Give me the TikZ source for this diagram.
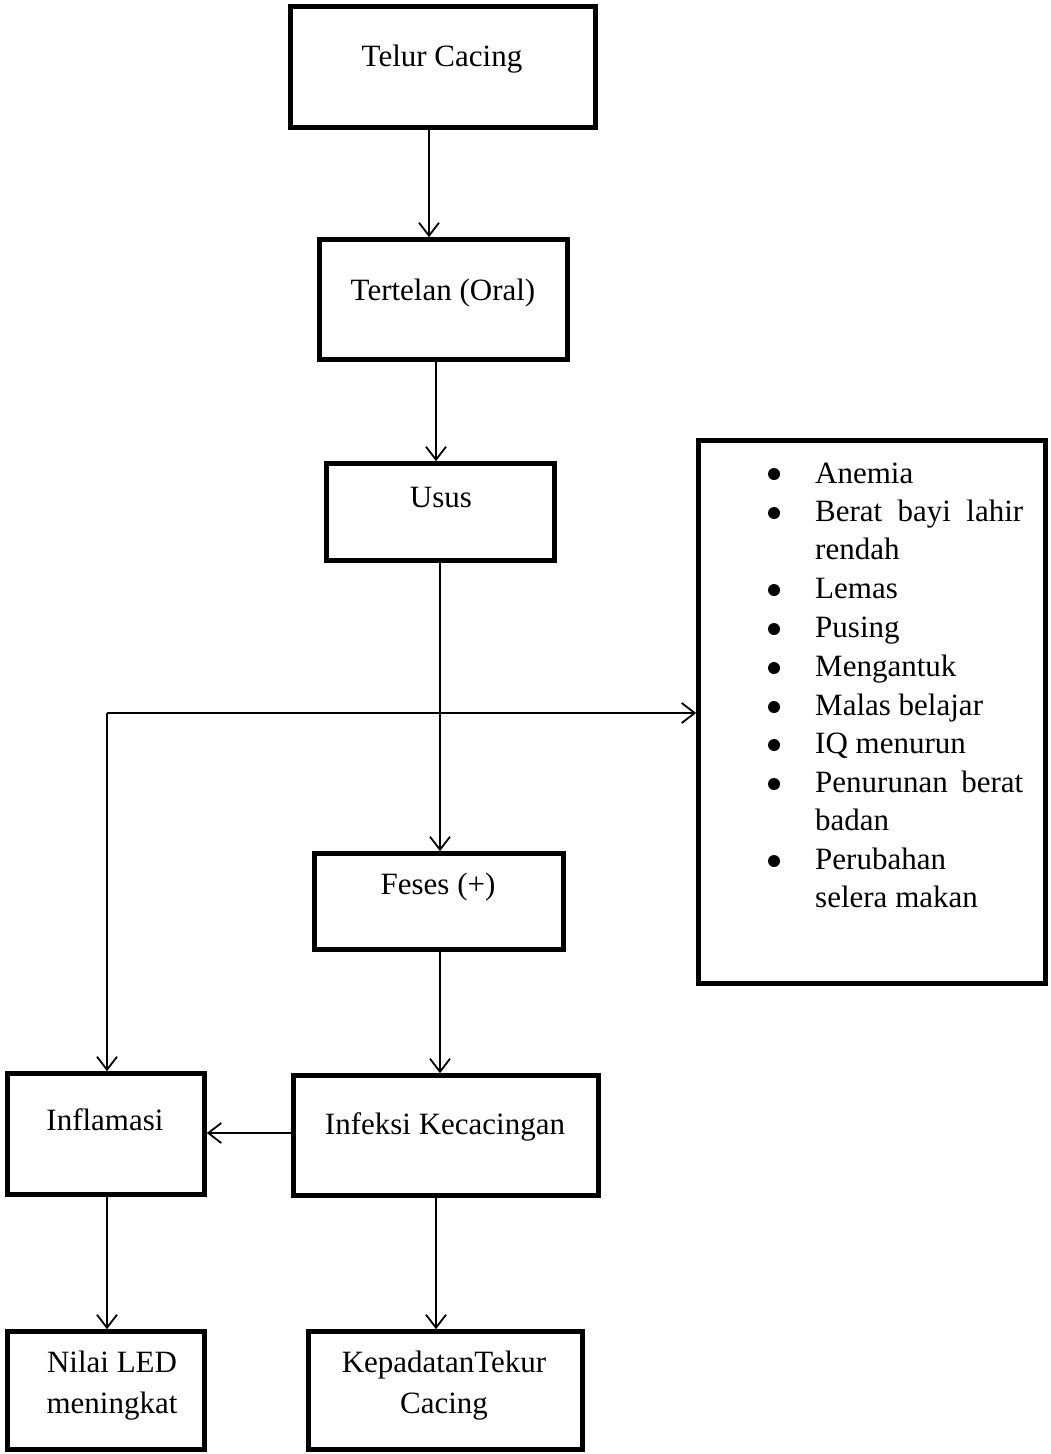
\documentclass[tikz,border=0pt]{standalone}
\usepackage{fontspec}
\setmainfont{Liberation Serif}
\usetikzlibrary{arrows.meta}
\begin{document}
\begin{tikzpicture}[x=1pt,y=-1pt,
  box/.style={draw, line width=4.6pt, inner sep=0pt},
  lbl/.style={anchor=base, inner sep=0pt, font=\fontsize{31}{38}\selectfont},
  arr/.style={line width=1.8pt, -{Straight Barb[length=13pt,width=20pt,line width=1.8pt]}},
  bul/.style={circle, fill, inner sep=0pt, minimum size=12pt},
  itm/.style={anchor=base west, inner sep=0pt, font=\fontsize{31}{38}\selectfont}]
\useasboundingbox (0,0) rectangle (1050,1454);
% boxes
\node[box, minimum width=305pt, minimum height=121pt] (telur) at (443,67) {};
\node[box, minimum width=248pt, minimum height=120pt] (oral) at (443.5,299.5) {};
\node[box, minimum width=228pt, minimum height=97pt] (usus) at (440.5,512) {};
\node[box, minimum width=347pt, minimum height=543pt] (list) at (872,712) {};
\node[box, minimum width=249pt, minimum height=96pt] (feses) at (439,901.5) {};
\node[box, minimum width=197pt, minimum height=121pt] (infl) at (106,1134) {};
\node[box, minimum width=305pt, minimum height=120pt] (infeksi) at (446,1135.5) {};
\node[box, minimum width=197pt, minimum height=118pt] (nilai) at (106,1390.5) {};
\node[box, minimum width=274pt, minimum height=118pt] (kepadatan) at (445.5,1390.5) {};
% texts
\node[lbl] (t1) at (442,66) {Telur Cacing};
\node[lbl] (t2) at (443,300) {Tertelan (Oral)};
\node[lbl] (t3) at (441,507) {Usus};
\node[lbl] (t4) at (438,894) {Feses (+)};
\node[lbl] (t5) at (105,1130) {Inflamasi};
\node[lbl] (t6) at (445,1134) {Infeksi Kecacingan};
\node[lbl] (t7) at (112,1372) {Nilai LED};
\node[lbl] (t8) at (112,1413) {meningkat};
\node[lbl] (t9) at (444,1372) {KepadatanTekur};
\node[lbl] (t10) at (444,1413) {Cacing};
% list
\node[bul] (b1) at (774,474) {};
\node[itm] (i1) at (815,483) {Anemia};
\node[bul] (b2) at (774,513) {};
\node[itm] (i2) at (815,521) {\makebox[208pt][s]{Berat bayi lahir}};
\node[itm] (i2b) at (815,559) {rendah};
\node[bul] (b3) at (774,590) {};
\node[itm] (i3) at (815,598) {Lemas};
\node[bul] (b4) at (774,629) {};
\node[itm] (i4) at (815,637) {Pusing};
\node[bul] (b5) at (774,668) {};
\node[itm] (i5) at (815,676) {Mengantuk};
\node[bul] (b6) at (774,707) {};
\node[itm] (i6) at (815,715) {Malas belajar};
\node[bul] (b7) at (774,745) {};
\node[itm] (i7) at (815,753) {IQ menurun};
\node[bul] (b8) at (774,784) {};
\node[itm] (i8) at (815,792) {\makebox[208pt][s]{Penurunan berat}};
\node[itm] (i8b) at (815,830) {badan};
\node[bul] (b9) at (774,861) {};
\node[itm] (i9) at (815,869) {Perubahan};
\node[itm] (i9b) at (815,907) {selera makan};
% connectors
\draw[arr] ([xshift=-14pt]telur.south) -- ([xshift=-14pt]telur.south |- oral.north);
\draw[arr] ([xshift=-7.5pt]oral.south) -- ([xshift=-7.5pt]oral.south |- usus.north);
\draw[arr] ([xshift=-0.5pt]usus.south) -- ([xshift=-0.5pt]usus.south |- feses.north);
\coordinate (j) at (107,713);
\draw[arr] (j) -- (list.west |- j);
\draw[arr] (j) -- (j |- infl.north);
\draw[arr] ([xshift=1pt]feses.south) -- ([xshift=1pt]feses.south |- infeksi.north);
\draw[arr] (infeksi.west |- 0,1133) -- (infl.east |- 0,1133);
\draw[arr] ([xshift=1pt]infl.south) -- ([xshift=1pt]infl.south |- nilai.north);
\draw[arr] ([xshift=-10pt]infeksi.south) -- ([xshift=-10pt]infeksi.south |- kepadatan.north);
\end{tikzpicture}
\end{document}
